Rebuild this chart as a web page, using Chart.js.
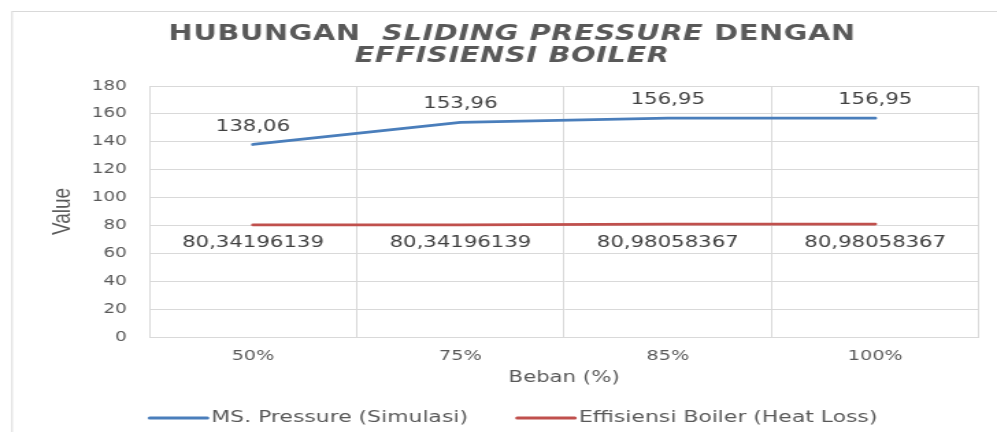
<!DOCTYPE html>
<html>
<head>
<meta charset="utf-8">
<title>Hubungan Sliding Pressure dengan Effisiensi Boiler</title>
<script src="https://cdn.jsdelivr.net/npm/chart.js@4.4.1/dist/chart.umd.min.js"></script>
<style>
  html, body { margin: 0; padding: 0; background: #fff; overflow: hidden; }
  #wrap { width: 728px; height: 432px; transform: scaleX(1.3695); transform-origin: 0 0; }
</style>
</head>
<body>
<div id="wrap"><canvas id="chart" width="728" height="432"></canvas></div>
<script>
// data
var labels = ['50%', '75%', '85%', '100%'];
var pressure = [138.06, 153.96, 156.95, 156.95];
var efficiency = [80.34196139, 80.34196139, 80.98058367, 80.98058367];
var pressureLabel = 'MS. Pressure (Simulasi)';
var efficiencyLabel = 'Effisiensi Boiler (Heat Loss)';
var yTicks = [0, 20, 40, 60, 80, 100, 120, 140, 160, 180];

var FONT = '"DejaVu Sans", Verdana, sans-serif';
var GREY = '#595959';
var GRID = '#d9d9d9';

function comma(v, digits) {
    return v.toFixed(digits).replace('.', ',');
}

// outer frame + title with italic parts
var decorPlugin = {
    id: 'decor',
    beforeDraw: function (chart) {
        var ctx = chart.ctx;
        ctx.save();
        ctx.strokeStyle = GRID;
        ctx.lineWidth = 1;
        ctx.strokeRect(8.8, 11.5, 2000, 2000);
        ctx.restore();
    },
    afterDraw: function (chart) {
        var ctx = chart.ctx;
        var cx = 374;
        var size = 21;
        var lines = [
            { y: 34.5, parts: [['HUBUNGAN  ', false], ['SLIDING PRESSURE', true], [' DENGAN', false]] },
            { y: 57, parts: [['EFFISIENSI BOILER', true]] }
        ];
        ctx.save();
        ctx.fillStyle = GREY;
        ctx.textBaseline = 'middle';
        ctx.textAlign = 'left';
        ctx.letterSpacing = '0.5px';
        lines.forEach(function (line) {
            var total = 0;
            line.parts.forEach(function (p) {
                ctx.font = (p[1] ? 'italic ' : '') + 'bold ' + size + 'px ' + FONT;
                total += ctx.measureText(p[0]).width;
            });
            var x = cx - total / 2;
            line.parts.forEach(function (p) {
                ctx.font = (p[1] ? 'italic ' : '') + 'bold ' + size + 'px ' + FONT;
                ctx.fillText(p[0], x, line.y);
                x += ctx.measureText(p[0]).width;
            });
        });
        ctx.restore();
        ctx.letterSpacing = '0px';
    }
};

// value labels: pressure above the line, efficiency below it
var valueLabelPlugin = {
    id: 'valueLabels',
    afterDatasetsDraw: function (chart) {
        var ctx = chart.ctx;
        ctx.save();
        ctx.font = '15.5px ' + FONT;
        ctx.fillStyle = '#404040';
        ctx.textAlign = 'center';
        ctx.textBaseline = 'middle';
        chart.data.datasets.forEach(function (ds, i) {
            var meta = chart.getDatasetMeta(i);
            meta.data.forEach(function (pt, j) {
                var v = ds.data[j];
                if (i === 0) {
                    ctx.fillText(comma(v, 2), pt.x, pt.y - 18);
                } else {
                    ctx.fillText(comma(v, 8), pt.x, pt.y + 18.5);
                }
            });
        });
        ctx.restore();
    }
};

// legend drawn as line samples under the axis title
var legendPlugin = {
    id: 'lineLegend',
    afterDraw: function (chart) {
        var ctx = chart.ctx;
        var sample = 42, gap = 3, between = 36, y = 418, center = 375;
        ctx.save();
        ctx.font = '16px ' + FONT;
        var widths = chart.data.datasets.map(function (ds) {
            return sample + gap + ctx.measureText(ds.label).width;
        });
        var total = widths.reduce(function (a, b) { return a + b; }, 0) + between * (widths.length - 1);
        var x = center - total / 2;
        chart.data.datasets.forEach(function (ds, i) {
            ctx.strokeStyle = ds.borderColor;
            ctx.lineWidth = 3;
            ctx.lineCap = 'round';
            ctx.beginPath();
            ctx.moveTo(x, y);
            ctx.lineTo(x + sample, y);
            ctx.stroke();
            ctx.fillStyle = GREY;
            ctx.textAlign = 'left';
            ctx.textBaseline = 'middle';
            ctx.fillText(ds.label, x + sample + gap, y);
            x += widths[i] + between;
        });
        ctx.restore();
    }
};

var chart = new Chart(document.getElementById('chart'), {
    type: 'line',
    data: {
        labels: labels,
        datasets: [
            {
                label: pressureLabel,
                data: pressure,
                borderColor: '#4a7ebb',
                backgroundColor: '#4a7ebb',
                borderWidth: 2.8,
                borderCapStyle: 'round',
                borderJoinStyle: 'round',
                pointRadius: 0,
                tension: 0,
                fill: false
            },
            {
                label: efficiencyLabel,
                data: efficiency,
                borderColor: '#c0504d',
                backgroundColor: '#c0504d',
                borderWidth: 2.8,
                borderCapStyle: 'round',
                borderJoinStyle: 'round',
                pointRadius: 0,
                tension: 0,
                fill: false
            }
        ]
    },
    options: {
        responsive: false,
        animation: false,
        layout: { padding: { left: 0, right: 13.2, top: 86, bottom: 35 } },
        plugins: {
            legend: { display: false },
            title: { display: false },
            tooltip: { enabled: false }
        },
        scales: {
            x: {
                offset: true,
                grid: { offset: true, color: GRID, drawTicks: false },
                border: { color: GRID },
                ticks: { color: GREY, font: { family: FONT, size: 14 }, padding: 11 },
                title: { display: true, text: 'Beban (%)', color: GREY, font: { family: FONT, size: 15.5 }, padding: { top: 0, bottom: 10 } },
                afterFit: function (scale) { scale.height = 60; }
            },
            y: {
                min: 0,
                max: 180,
                afterBuildTicks: function (scale) {
                    scale.ticks = yTicks.map(function (v) { return { value: v }; });
                },
                grid: { color: GRID, drawTicks: false },
                border: { color: GRID },
                ticks: { color: GREY, font: { family: FONT, size: 13.5 }, padding: 16.3 },
                title: { display: true, text: 'Value', color: GREY, font: { family: '"Liberation Sans Narrow", "Liberation Sans", sans-serif', size: 19 }, padding: { top: 34.6, bottom: 0 } },
                afterFit: function (scale) { scale.width = 109; }
            }
        }
    },
    plugins: [decorPlugin, valueLabelPlugin, legendPlugin]
});
</script>
</body>
</html>
